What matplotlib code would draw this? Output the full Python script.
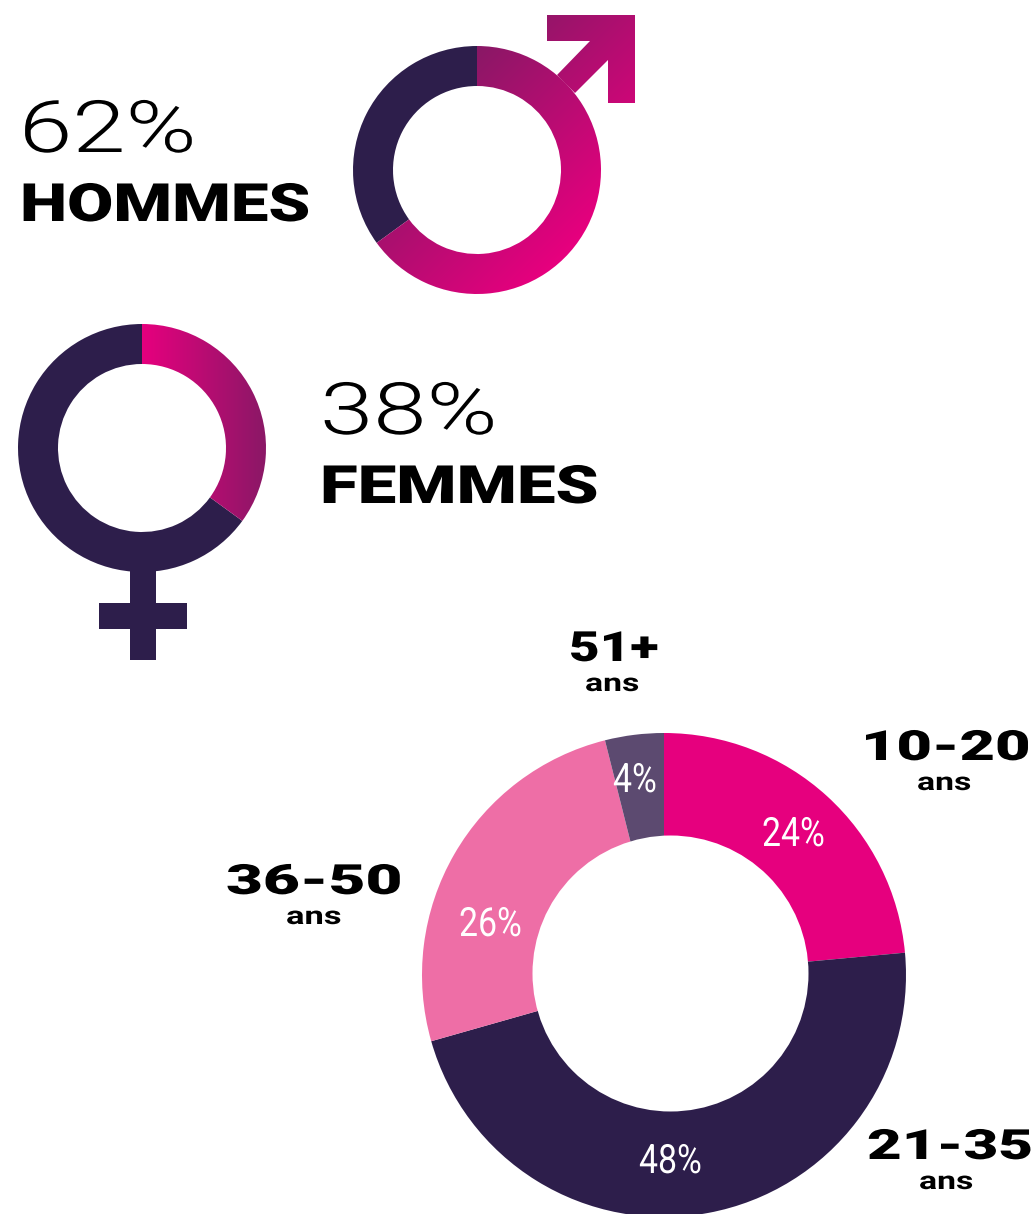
import matplotlib
matplotlib.use('Agg')
import numpy as np
import matplotlib.pyplot as plt
import matplotlib.patheffects as pe
from matplotlib.colors import LinearSegmentedColormap
from matplotlib.patches import Circle, Polygon
from matplotlib.transforms import Affine2D

W, H = 1035, 1214
DARK = '#2d1e4b'
PINK = '#e6007e'
GRAD_DARK = '#8a1866'

# shares as drawn in the rings, printed labels differ a bit
homme_shares = [65, 35]
femme_shares = [35, 65]
homme_label = ['62%', 'HOMMES']
femme_label = ['38%', 'FEMMES']

age_groups = ['10-20', '21-35', '36-50', '51+']
age_values = [24, 48, 26, 4]
age_labels = ['24%', '48%', '26%', '4%']
age_colors = [PINK, DARK, '#ee6ea6', '#5c4a70']


class Stretch(pe.AbstractPathEffect):
    # wide/condensed look, none of the installed fonts has it
    def __init__(self, sx):
        super().__init__()
        self.sx = sx

    def draw_path(self, renderer, gc, tpath, affine, rgbFace=None):
        renderer.draw_path(gc, tpath, Affine2D().scale(self.sx, 1) + affine, rgbFace)


def py(y):
    return H - y


def label(x, y, s, size, sx, weight='normal', color='black', family='Roboto'):
    ax.text(x, py(y), s, fontsize=size, fontweight=weight, color=color, family=family,
            ha='left', va='baseline', path_effects=[Stretch(sx)])


fig = plt.figure(figsize=(W / 100, H / 100), dpi=100)
ax = fig.add_axes([0, 0, 1, 1])

cmap_m = LinearSegmentedColormap.from_list('m', [GRAD_DARK, PINK])
cmap_f = LinearSegmentedColormap.from_list('f', [PINK, GRAD_DARK])

# x+y gradient for the male sign
xx, yy = np.meshgrid(np.arange(340, 650), np.arange(0, 300))
grad_m = np.clip((xx + yy - 525) / 290, 0, 1)
# left to right for the female ring
xx2, yy2 = np.meshgrid(np.arange(140, 270), np.arange(320, 530))
grad_f = np.clip((xx2 - 142) / 124, 0, 1)

# male ring
wedges, _ = ax.pie(homme_shares, center=(477, py(170)), radius=124, startangle=90, counterclock=False,
                   colors=['none', DARK], wedgeprops=dict(width=40, linewidth=0))
img = ax.imshow(grad_m, cmap=cmap_m, extent=(340, 650, py(300), py(0)), vmin=0, vmax=1, zorder=1)
img.set_clip_path(wedges[0].get_path(), wedges[0].get_transform())
arrow = Polygon([(px, py(pyy)) for px, pyy in
                 [(557, 75), (590, 41), (547, 41), (547, 15), (635, 15), (635, 103), (608, 103), (608, 60), (575, 93)]],
                closed=True, facecolor='none', edgecolor='none')
ax.add_patch(arrow)
img2 = ax.imshow(grad_m, cmap=cmap_m, extent=(340, 650, py(300), py(0)), vmin=0, vmax=1, zorder=1)
img2.set_clip_path(arrow)

# female ring
wedges_f, _ = ax.pie(femme_shares, center=(142, py(448)), radius=124, startangle=90, counterclock=False,
                     colors=['none', DARK], wedgeprops=dict(width=40, linewidth=0))
img3 = ax.imshow(grad_f, cmap=cmap_f, extent=(140, 270, py(530), py(320)), vmin=0, vmax=1, zorder=1)
img3.set_clip_path(wedges_f[0].get_path(), wedges_f[0].get_transform())
ax.add_patch(plt.Rectangle((130, py(660)), 26, 92, color=DARK, lw=0))
ax.add_patch(plt.Rectangle((99, py(629)), 88, 26, color=DARK, lw=0))

# age donut, hole is a bit off centre in the original
ax.pie(age_values, center=(664, py(975)), radius=242, startangle=90, counterclock=False,
       colors=age_colors, wedgeprops=dict(linewidth=0))
ax.add_patch(Circle((670.5, py(973.5)), 138, color='white', lw=0, zorder=3))

ax.set_xlim(0, W)
ax.set_ylim(0, H)
ax.set_aspect('equal')
ax.axis('off')

# gender texts
label(19, 152, homme_label[0], 52, 1.33, weight=300)
label(20, 221, homme_label[1], 38, 1.27, weight=900)
label(320, 434, femme_label[0], 52, 1.33, weight=300)
label(320, 503, femme_label[1], 38, 1.305, weight=900)

# age group names
label(569, 661, age_groups[3], 30, 1.27, weight=900)
label(585, 691, 'ans', 18, 1.35, weight=700)
label(861, 760, age_groups[0], 30, 1.47, weight=900)
label(917, 790, 'ans', 18, 1.35, weight=700)
label(226, 894, age_groups[2], 30, 1.53, weight=900)
label(286, 924, 'ans', 18, 1.38, weight=700)
label(867, 1159, age_groups[1], 30, 1.44, weight=900)
label(919, 1189, 'ans', 18, 1.35, weight=700)

# percentages on the slices
pct_pos = [(762, 846), (639, 1173), (459, 936), (613, 792)]
for (x, y), s in zip(pct_pos, age_labels):
    ax.text(x, py(y), s, fontsize=29, fontweight=400, color='white', family='Roboto', ha='left',
            va='baseline', zorder=4, path_effects=[Stretch(0.84)])

fig.savefig('out.png', dpi=100)
